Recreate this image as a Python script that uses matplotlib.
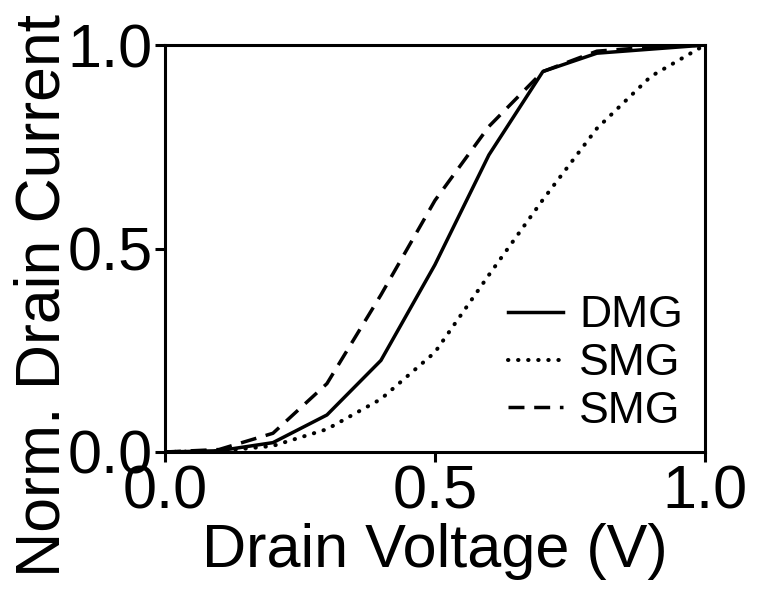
import matplotlib
matplotlib.use('Agg')
import matplotlib.pyplot as plt

plt.rcParams['font.family'] = ['Liberation Sans', 'DejaVu Sans']

# normalized output curves, drain voltage in V
vd = [0.0, 0.1, 0.2, 0.3, 0.4, 0.5, 0.6, 0.7, 0.8, 0.9, 1.0]
id_dmg = [0.0, 0.003, 0.023, 0.091, 0.225, 0.46, 0.73, 0.935, 0.98, 0.99, 1.0]
id_smg_dot = [0.0, 0.002, 0.015, 0.056, 0.13, 0.245, 0.435, 0.62, 0.795, 0.923, 1.0]
id_smg_dash = [0.0, 0.006, 0.046, 0.168, 0.386, 0.618, 0.80, 0.935, 0.985, 0.995, 1.0]

labels = ['DMG', 'SMG', 'SMG']

fig = plt.figure(figsize=(7.62, 5.93), dpi=100)
ax = fig.add_axes([0.2165, 0.2378, 0.7085, 0.6862])

lw = 2.5
ax.plot(vd, id_dmg, color='black', lw=lw, label=labels[0])
ax.plot(vd, id_smg_dot, color='black', lw=2.9, label=labels[1],
        linestyle=(0, (0.1, 2.4)), dash_capstyle='round')
ax.plot(vd, id_smg_dash, color='black', lw=lw, label=labels[2],
        linestyle=(0, (4.6, 2.8)))

ax.set_xlim(0, 1)
ax.set_ylim(0, 1)
ax.set_xticks([0.0, 0.5, 1.0])
ax.set_yticks([0.0, 0.5, 1.0])
ax.set_xticklabels(['0.0', '0.5', '1.0'])
ax.set_yticklabels(['0.0', '0.5', '1.0'])

for s in ax.spines.values():
    s.set_linewidth(2.2)
ax.tick_params(direction='out', length=7, width=2.2, labelsize=44, pad=2)

ax.set_xlabel('Drain Voltage (V)', fontsize=44, labelpad=1)
ax.set_ylabel('Norm. Drain Current', fontsize=45)
ax.yaxis.set_label_coords(-0.172, 0.385)

ax.legend(loc='lower right', bbox_to_anchor=(0.992, 0.006), frameon=False,
          fontsize=32, handlelength=1.25, handletextpad=0.35,
          labelspacing=0.15, borderaxespad=0.0)

plt.savefig('out.png', dpi=100)
